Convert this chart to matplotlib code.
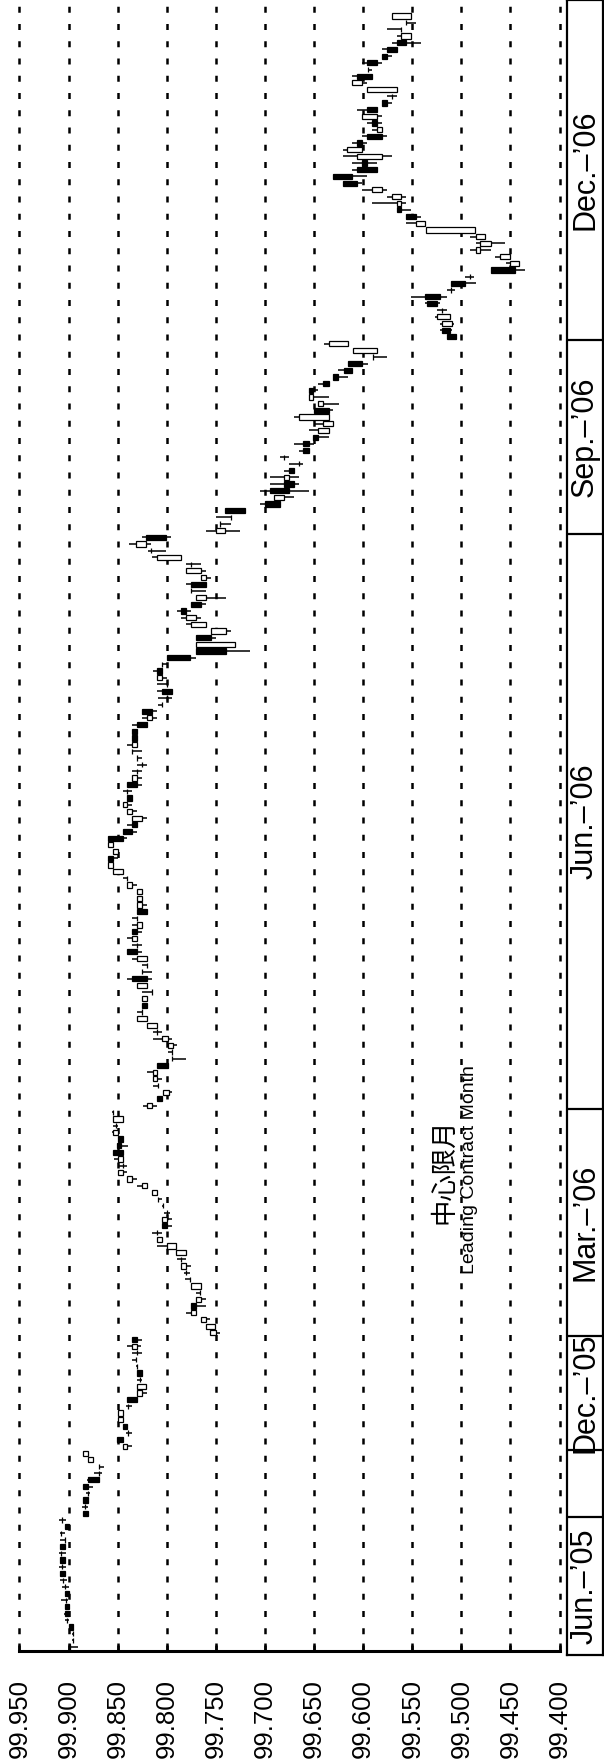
import matplotlib
matplotlib.use("Agg")
import matplotlib.pyplot as plt
import numpy as np

plt.rcParams['font.family'] = ['Liberation Sans', 'DejaVu Sans']

# ---------------- data ----------------
price_ticks = [99.95, 99.90, 99.85, 99.80, 99.75, 99.70, 99.65, 99.60, 99.55, 99.50, 99.45, 99.40]
tick_labels = ["99.950", "99.900", "99.850", "99.800", "99.750", "99.700",
               "99.650", "99.600", "99.550", "99.500", "99.450", "99.400"]

contract_labels = ["Jun.–’05", "", "Dec.–’05", "Mar.–’06", "Jun.–’06", "Sep.–’06", "Dec.–’06"]
contract_counts = [20, 10, 17, 34, 86, 29, 49]

opens = [
    99.900, 99.895, 99.895, 99.899, 99.902, 99.904, 99.904, 99.903, 99.904, 99.904,
    99.906, 99.909, 99.907, 99.909, 99.908, 99.909, 99.904, 99.908, 99.904, 99.907,
    99.885, 99.883, 99.885, 99.880, 99.885, 99.880, 99.869, 99.869, 99.875, 99.880,
    99.840, 99.851, 99.839, 99.845, 99.845, 99.845, 99.839, 99.840, 99.825, 99.821,
    99.827, 99.830, 99.830, 99.831, 99.830, 99.830, 99.835,
    99.750, 99.751, 99.760, 99.770, 99.775, 99.765, 99.766, 99.765, 99.776, 99.780,
    99.780, 99.785, 99.780, 99.791, 99.805, 99.810, 99.805, 99.800, 99.800, 99.804,
    99.809, 99.810, 99.820, 99.835, 99.845, 99.845, 99.845, 99.855, 99.851, 99.850,
    99.850, 99.852, 99.845, 99.855,
    99.815, 99.810, 99.798, 99.809, 99.810, 99.810, 99.810, 99.795, 99.795, 99.794,
    99.799, 99.810, 99.810, 99.820, 99.825, 99.825, 99.820, 99.815, 99.820, 99.835,
    99.825, 99.820, 99.820, 99.840, 99.830, 99.830, 99.835, 99.825, 99.830, 99.830,
    99.825, 99.825, 99.825, 99.835, 99.840, 99.845, 99.855, 99.860, 99.850, 99.855,
    99.860, 99.845, 99.835, 99.825, 99.835, 99.840, 99.840, 99.840, 99.840, 99.830,
    99.830, 99.825, 99.830, 99.835, 99.830, 99.835, 99.835, 99.830, 99.815, 99.825,
    99.805, 99.800, 99.805, 99.800, 99.805, 99.810, 99.805, 99.800, 99.770, 99.730,
    99.770, 99.740, 99.760, 99.770, 99.785, 99.775, 99.760, 99.775, 99.775, 99.760,
    99.765, 99.775, 99.785, 99.816, 99.821, 99.821,
    99.741, 99.746, 99.735, 99.741, 99.700, 99.681, 99.695, 99.681, 99.676, 99.676,
    99.665, 99.681, 99.661, 99.661, 99.651, 99.635, 99.631, 99.635, 99.650, 99.641,
    99.651, 99.655, 99.641, 99.631, 99.620, 99.615, 99.590, 99.586, 99.615,
    99.515, 99.520, 99.510, 99.512, 99.520, 99.535, 99.537, 99.511, 99.511, 99.491,
    99.470, 99.441, 99.451, 99.481, 99.470, 99.476, 99.486, 99.537, 99.556, 99.566,
    99.561, 99.561, 99.581, 99.621, 99.631, 99.606, 99.601, 99.581, 99.601, 99.606,
    99.596, 99.581, 99.591, 99.586, 99.596, 99.581, 99.571, 99.566, 99.601, 99.606,
    99.595, 99.596, 99.581, 99.576, 99.566, 99.551, 99.561, 99.556, 99.551,
]

highs = [
    99.900, 99.896, 99.896, 99.899, 99.904, 99.905, 99.904, 99.908, 99.904, 99.907,
    99.909, 99.909, 99.910, 99.909, 99.910, 99.909, 99.909, 99.909, 99.904, 99.910,
    99.885, 99.886, 99.885, 99.882, 99.885, 99.881, 99.874, 99.869, 99.880, 99.885,
    99.845, 99.851, 99.841, 99.845, 99.850, 99.850, 99.841, 99.840, 99.830, 99.830,
    99.830, 99.830, 99.831, 99.835, 99.835, 99.840, 99.835,
    99.756, 99.760, 99.765, 99.780, 99.775, 99.770, 99.770, 99.775, 99.781, 99.782,
    99.785, 99.790, 99.791, 99.810, 99.810, 99.815, 99.805, 99.805, 99.803, 99.805,
    99.809, 99.815, 99.830, 99.840, 99.850, 99.849, 99.854, 99.855, 99.851, 99.850,
    99.856, 99.855, 99.855, 99.856,
    99.824, 99.810, 99.804, 99.814, 99.814, 99.820, 99.810, 99.795, 99.799, 99.799,
    99.814, 99.814, 99.820, 99.830, 99.830, 99.825, 99.825, 99.825, 99.830, 99.840,
    99.825, 99.825, 99.835, 99.840, 99.835, 99.840, 99.835, 99.835, 99.835, 99.830,
    99.830, 99.830, 99.830, 99.840, 99.845, 99.855, 99.860, 99.860, 99.855, 99.860,
    99.860, 99.845, 99.840, 99.835, 99.840, 99.845, 99.840, 99.845, 99.840, 99.835,
    99.835, 99.830, 99.830, 99.835, 99.840, 99.835, 99.835, 99.835, 99.825, 99.825,
    99.809, 99.809, 99.810, 99.810, 99.810, 99.814, 99.805, 99.800, 99.770, 99.770,
    99.770, 99.755, 99.780, 99.785, 99.790, 99.775, 99.770, 99.775, 99.780, 99.765,
    99.780, 99.780, 99.815, 99.819, 99.838, 99.825,
    99.760, 99.746, 99.750, 99.741, 99.705, 99.691, 99.705, 99.695, 99.695, 99.681,
    99.676, 99.685, 99.665, 99.670, 99.651, 99.655, 99.650, 99.670, 99.650, 99.646,
    99.655, 99.655, 99.646, 99.631, 99.626, 99.615, 99.590, 99.610, 99.640,
    99.515, 99.522, 99.522, 99.527, 99.525, 99.537, 99.551, 99.515, 99.511, 99.496,
    99.470, 99.455, 99.466, 99.491, 99.485, 99.491, 99.536, 99.556, 99.556, 99.566,
    99.591, 99.576, 99.601, 99.621, 99.631, 99.611, 99.611, 99.621, 99.621, 99.611,
    99.601, 99.591, 99.596, 99.601, 99.606, 99.581, 99.576, 99.596, 99.611, 99.611,
    99.595, 99.601, 99.581, 99.581, 99.571, 99.566, 99.576, 99.556, 99.571,
]

lows = [
    99.890, 99.894, 99.894, 99.895, 99.899, 99.899, 99.900, 99.901, 99.899, 99.900,
    99.902, 99.904, 99.903, 99.904, 99.903, 99.904, 99.903, 99.904, 99.899, 99.903,
    99.880, 99.880, 99.880, 99.878, 99.875, 99.868, 99.866, 99.864, 99.875, 99.880,
    99.835, 99.845, 99.835, 99.840, 99.845, 99.845, 99.835, 99.830, 99.820, 99.821,
    99.825, 99.825, 99.829, 99.831, 99.825, 99.826, 99.825,
    99.746, 99.751, 99.756, 99.770, 99.760, 99.760, 99.765, 99.765, 99.776, 99.776,
    99.775, 99.780, 99.780, 99.791, 99.805, 99.805, 99.795, 99.795, 99.797, 99.803,
    99.805, 99.810, 99.820, 99.830, 99.840, 99.840, 99.845, 99.845, 99.839, 99.845,
    99.850, 99.850, 99.845, 99.854,
    99.810, 99.805, 99.795, 99.809, 99.805, 99.810, 99.799, 99.780, 99.795, 99.790,
    99.795, 99.805, 99.810, 99.820, 99.825, 99.820, 99.820, 99.815, 99.820, 99.815,
    99.815, 99.820, 99.820, 99.825, 99.825, 99.830, 99.825, 99.825, 99.830, 99.820,
    99.820, 99.825, 99.825, 99.830, 99.840, 99.845, 99.855, 99.850, 99.849, 99.855,
    99.840, 99.830, 99.830, 99.820, 99.830, 99.835, 99.835, 99.835, 99.825, 99.825,
    99.825, 99.820, 99.825, 99.825, 99.830, 99.830, 99.830, 99.820, 99.810, 99.810,
    99.804, 99.795, 99.795, 99.800, 99.800, 99.805, 99.800, 99.770, 99.715, 99.730,
    99.750, 99.735, 99.760, 99.765, 99.775, 99.760, 99.740, 99.760, 99.760, 99.755,
    99.760, 99.765, 99.785, 99.801, 99.816, 99.796,
    99.725, 99.735, 99.735, 99.720, 99.685, 99.670, 99.655, 99.665, 99.665, 99.670,
    99.661, 99.676, 99.655, 99.650, 99.635, 99.635, 99.631, 99.635, 99.631, 99.625,
    99.635, 99.646, 99.635, 99.615, 99.611, 99.595, 99.576, 99.586, 99.615,
    99.505, 99.510, 99.508, 99.512, 99.515, 99.522, 99.515, 99.507, 99.485, 99.487,
    99.435, 99.441, 99.451, 99.470, 99.456, 99.476, 99.486, 99.537, 99.541, 99.551,
    99.556, 99.556, 99.576, 99.601, 99.596, 99.586, 99.586, 99.571, 99.601, 99.596,
    99.576, 99.581, 99.581, 99.581, 99.586, 99.571, 99.566, 99.566, 99.596, 99.591,
    99.591, 99.581, 99.571, 99.566, 99.541, 99.551, 99.561, 99.546, 99.551,
]

closes = [
    99.898, 99.895, 99.895, 99.895, 99.902, 99.899, 99.900, 99.903, 99.899, 99.904,
    99.906, 99.904, 99.907, 99.904, 99.908, 99.904, 99.904, 99.908, 99.899, 99.907,
    99.880, 99.883, 99.880, 99.880, 99.880, 99.869, 99.869, 99.869, 99.880, 99.885,
    99.845, 99.845, 99.839, 99.840, 99.850, 99.850, 99.839, 99.830, 99.830, 99.830,
    99.827, 99.825, 99.830, 99.831, 99.830, 99.835, 99.830,
    99.756, 99.760, 99.765, 99.775, 99.770, 99.770, 99.766, 99.775, 99.776, 99.780,
    99.785, 99.785, 99.791, 99.800, 99.810, 99.810, 99.800, 99.805, 99.800, 99.804,
    99.809, 99.815, 99.825, 99.840, 99.850, 99.845, 99.850, 99.845, 99.847, 99.845,
    99.855, 99.852, 99.855, 99.855,
    99.820, 99.805, 99.804, 99.809, 99.814, 99.814, 99.799, 99.795, 99.795, 99.799,
    99.805, 99.810, 99.820, 99.830, 99.825, 99.820, 99.825, 99.815, 99.830, 99.820,
    99.825, 99.820, 99.830, 99.830, 99.830, 99.835, 99.830, 99.830, 99.830, 99.820,
    99.830, 99.830, 99.830, 99.840, 99.840, 99.855, 99.860, 99.855, 99.855, 99.860,
    99.845, 99.835, 99.830, 99.835, 99.840, 99.845, 99.835, 99.840, 99.830, 99.835,
    99.830, 99.825, 99.830, 99.835, 99.835, 99.830, 99.830, 99.820, 99.820, 99.815,
    99.805, 99.800, 99.795, 99.800, 99.810, 99.805, 99.805, 99.776, 99.740, 99.770,
    99.755, 99.755, 99.775, 99.780, 99.780, 99.765, 99.770, 99.775, 99.760, 99.765,
    99.780, 99.775, 99.810, 99.816, 99.831, 99.801,
    99.750, 99.746, 99.735, 99.720, 99.685, 99.691, 99.676, 99.670, 99.681, 99.670,
    99.665, 99.681, 99.655, 99.655, 99.646, 99.646, 99.641, 99.665, 99.635, 99.646,
    99.655, 99.651, 99.635, 99.626, 99.611, 99.601, 99.590, 99.610, 99.635,
    99.505, 99.512, 99.520, 99.525, 99.520, 99.525, 99.522, 99.511, 99.496, 99.491,
    99.445, 99.451, 99.461, 99.485, 99.481, 99.485, 99.536, 99.546, 99.546, 99.561,
    99.566, 99.571, 99.591, 99.606, 99.611, 99.586, 99.596, 99.606, 99.616, 99.601,
    99.581, 99.586, 99.586, 99.601, 99.586, 99.576, 99.571, 99.596, 99.611, 99.591,
    99.595, 99.586, 99.576, 99.566, 99.556, 99.561, 99.561, 99.556, 99.571,
]

# ---------------- figure ----------------
W, H = 604, 1764
fig = plt.figure(figsize=(W / 100, H / 100), dpi=100)

ax = fig.add_axes([19.4 / W, (H - 1651) / H, 540.2 / W, 1651 / H])
ax.set_xlim(99.95, 99.40)
ax.set_ylim(-0.6, 246.4)
for s in ['top', 'left', 'right']:
    ax.spines[s].set_visible(False)
ax.spines['bottom'].set_linewidth(2.2)
ax.set_xticks(price_ticks)
ax.set_xticklabels(tick_labels, rotation=90, fontsize=18.5)
ax.tick_params(axis='x', direction='in', length=6, width=1.8, pad=20)
ax.set_yticks([])
ax.patch.set_alpha(0)

for t in price_ticks:
    ax.axvline(t, color='black', lw=1.8, linestyle=(0, (2.4, 4.5)),
               clip_on=False, zorder=0)

o = np.array(opens)
h = np.array(highs)
l = np.array(lows)
c = np.array(closes)
idx = np.arange(len(o))
ax.hlines(idx, l, h, color='black', lw=1.1, zorder=2)
fills = ['white' if cc >= oo else 'black' for oo, cc in zip(o, c)]
ax.barh(idx, c - o, left=o, height=0.78, color=fills,
        edgecolor='black', linewidth=0.9, zorder=3)

# contract month box
bx = fig.add_axes([567 / W, (H - 1655) / H, 36 / W, 1655 / H])
bx.set_xlim(0, 1)
bx.set_ylim(-1.2, 246.4)
bx.set_xticks([])
bx.set_yticks([])
for s in bx.spines.values():
    s.set_linewidth(1.6)
bounds = np.cumsum(contract_counts)[:-1] - 0.5
for b in bounds:
    bx.axhline(b, color='black', lw=1.6)
edges = [-1.2] + list(bounds) + [246.4]
for i, lab in enumerate(contract_labels):
    if lab:
        bx.text(0.5, (edges[i] + edges[i + 1]) / 2, lab, rotation=90,
                ha='center', va='center', fontsize=22)

fig.text(444 / W, 1 - 1171 / H, '中心限月', rotation=90, ha='center', va='center',
         fontsize=19, family=['Noto Sans CJK JP', 'DejaVu Sans'])
fig.text(470 / W, 1 - 1170 / H, 'Leading Contract Month', rotation=90,
         ha='center', va='center', fontsize=14)

fig.savefig('out.png', dpi=100)
